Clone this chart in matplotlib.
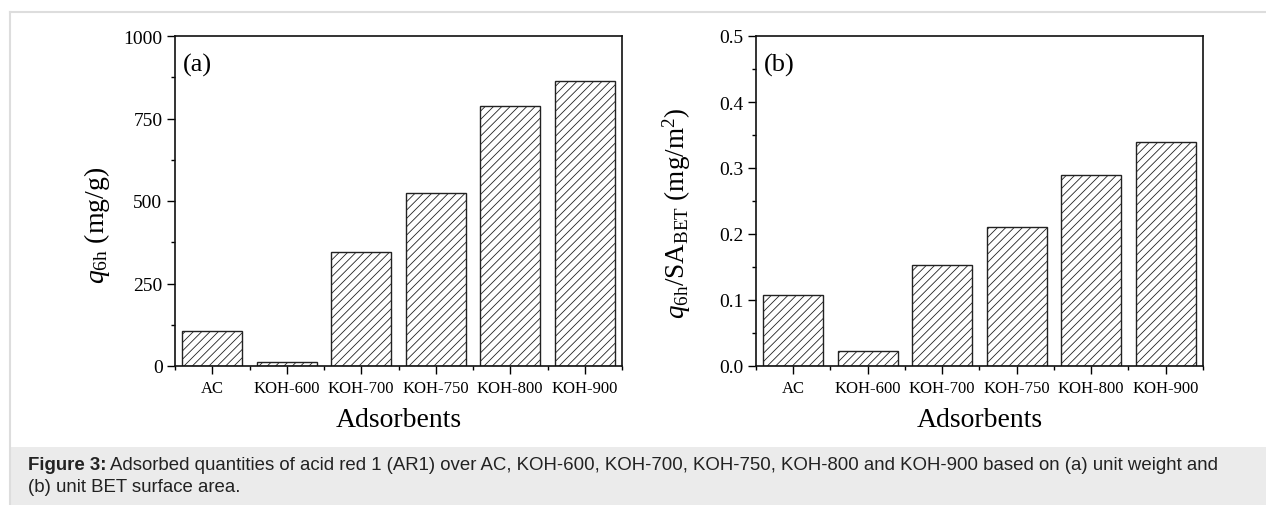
import numpy as np
import matplotlib
matplotlib.use("Agg")
import matplotlib.pyplot as plt
from matplotlib.patches import Rectangle
from matplotlib.lines import Line2D
from matplotlib.ticker import MultipleLocator

plt.rcParams['font.family'] = ['Liberation Serif', 'DejaVu Serif']
plt.rcParams['mathtext.fontset'] = 'custom'
plt.rcParams['mathtext.rm'] = 'Liberation Serif'
plt.rcParams['mathtext.it'] = 'Liberation Serif:italic'
plt.rcParams['hatch.linewidth'] = 0.6
plt.rcParams['hatch.color'] = '#444444'

adsorbents = ["AC", "KOH-600", "KOH-700", "KOH-750", "KOH-800", "KOH-900"]
q_weight = [107, 11, 345, 525, 788, 863]          # mg/g
q_area = [0.107, 0.022, 0.153, 0.211, 0.290, 0.339]  # mg/m2

fig = plt.figure(figsize=(12.66, 5.06), dpi=100)

# page frame and caption band
fig.add_artist(Line2D([10/1266, 10/1266], [0, 1 - 13/506], transform=fig.transFigure,
                      color='#dddddd', lw=1.5))
fig.add_artist(Line2D([10/1266, 1], [1 - 13/506, 1 - 13/506], transform=fig.transFigure,
                      color='#dddddd', lw=1.5))
fig.add_artist(Rectangle((10/1266, 0), 1, 58/506, transform=fig.transFigure,
                         facecolor='#ebebeb', edgecolor='none'))

cap_fs = 13.4
cap_y1 = 1 - 466/506
cap_y2 = 1 - 488/506
t = fig.text(28/1266, cap_y1, "Figure 3:", fontsize=cap_fs, fontweight='bold',
             family='Liberation Sans', color='#222222', va='center')
fig.canvas.draw()
bb = t.get_window_extent()
fig.text(bb.x1/1266 + 4/1266, cap_y1,
         "Adsorbed quantities of acid red 1 (AR1) over AC, KOH-600, KOH-700, KOH-750, "
         "KOH-800 and KOH-900 based on (a) unit weight and",
         fontsize=cap_fs, family='Liberation Sans', color='#222222', va='center')
fig.text(28/1266, cap_y2, "(b) unit BET surface area.", fontsize=cap_fs,
         family='Liberation Sans', color='#222222', va='center')

ax1 = fig.add_axes([175/1266, 139/506, 447/1266, 330/506])
ax2 = fig.add_axes([756/1266, 139/506, 447/1266, 330/506])

x = np.arange(len(adsorbents))

def style(ax, vals, ymax, major, minor, fmt):
    ax.bar(x, vals, width=0.8, facecolor='white', edgecolor='#222222', lw=1.0,
           hatch='////')
    ax.set_xlim(-0.5, len(adsorbents) - 0.5)
    ax.set_ylim(0, ymax)
    ax.set_xticks(x)
    ax.set_xticklabels(adsorbents, fontsize=12)
    ax.xaxis.set_minor_locator(MultipleLocator(1, offset=0.5))
    ax.yaxis.set_major_locator(MultipleLocator(major))
    ax.yaxis.set_minor_locator(MultipleLocator(minor))
    ax.yaxis.set_major_formatter(fmt)
    ax.tick_params(axis='both', which='major', direction='out', length=6, width=1,
                   labelsize=14, pad=3)
    ax.tick_params(axis='x', which='major', labelsize=12, pad=4)
    ax.tick_params(axis='both', which='minor', direction='out', length=3, width=1)
    for s in ax.spines.values():
        s.set_linewidth(1.2)
        s.set_color('#111111')
    ax.set_xlabel("Adsorbents", fontsize=20, labelpad=8)

style(ax1, q_weight, 1000, 250, 125, '{x:.0f}')
style(ax2, q_area, 0.5, 0.1, 0.05, '{x:.1f}')

ax1.set_ylabel(r"$q_{\mathrm{6h}}$ (mg/g)", fontsize=20)
ax1.yaxis.set_label_coords(-0.14, 0.43)
ax2.set_ylabel(r"$q_{\mathrm{6h}}/\mathrm{SA}_{\mathrm{BET}}$ (mg/m$^2$)", fontsize=19.5)
ax2.yaxis.set_label_coords(-0.14, 0.465)

ax1.text(0.018, 0.915, "(a)", transform=ax1.transAxes, fontsize=19, va='center')
ax2.text(0.018, 0.915, "(b)", transform=ax2.transAxes, fontsize=19, va='center')

fig.savefig("out.png", dpi=100)
